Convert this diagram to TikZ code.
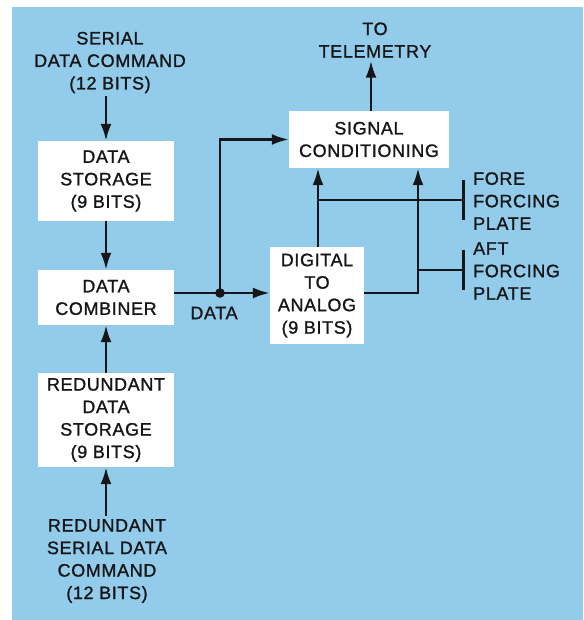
\documentclass[tikz,border=0pt]{standalone}
\usepackage{fontspec}
\setmainfont{Liberation Sans}[LetterSpace=3.5, FakeBold=1.2]
\usetikzlibrary{arrows.meta,positioning}
\definecolor{panelBlue}{RGB}{146,204,234}
\definecolor{inkDark}{RGB}{22,22,24}
\tikzset{
  cmdBlock/.style={fill=white, align=center, inner sep=0pt, text=inkDark, font=\fontsize{18}{22.5}\selectfont},
  cmdText/.style={align=center, inner sep=3pt, text=inkDark, font=\fontsize{18}{22.5}\selectfont},
  cmdSide/.style={align=left, inner sep=0pt, anchor=west, text=inkDark, font=\fontsize{18}{22.5}\selectfont},
  cmdArrow/.style={-{Latex[length=17pt,width=11pt]}, line width=2.6pt, draw=inkDark},
  cmdLine/.style={line width=2.6pt, draw=inkDark},
  cmdPlate/.style={-{Bar[width=40pt,line width=2.6pt]}, line width=2.6pt, draw=inkDark}
}

\begin{document}
\begin{tikzpicture}[x=1pt, y=-1pt]
      \useasboundingbox (0,0) rectangle (583,620);
      \fill[white] (0,0) rectangle (583,620);
      \fill[panelBlue] (12,7) rectangle (583,620);

      % left column
      \node[cmdText] (serial) at (110,62.5) {SERIAL\\DATA COMMAND\\(12 BITS)};
      \node[cmdBlock, minimum width=136pt, minimum height=80pt] (storage) at (106,181) {DATA\\STORAGE\\(9 BITS)};
      \node[cmdBlock, minimum width=136pt, minimum height=55pt] (combiner) at (106,297.5) {DATA\\COMBINER};
      \node[cmdBlock, minimum width=136pt, minimum height=94pt] (redstorage) at (106,420) {REDUNDANT\\DATA\\STORAGE\\(9 BITS)};
      \node[cmdText] (redserial) at (107,561) {REDUNDANT\\SERIAL DATA\\COMMAND\\(12 BITS)};

      % right part
      \node[cmdBlock, minimum width=94pt, minimum height=97pt] (dtoa) at (317,295.5) {DIGITAL\\TO\\ANALOG\\(9 BITS)};
      \node[cmdBlock, minimum width=160pt, minimum height=57pt] (sigcond) at (369,139.5) {SIGNAL\\CONDITIONING};
      \node[cmdText] (telemetry) at (375,40) {TO\\TELEMETRY};
      \node[cmdSide] (fore) at (473,201) {FORE\\FORCING\\PLATE};
      \node[cmdSide] (aft) at (473,271) {AFT\\FORCING\\PLATE};
      \node[cmdText] (datalabel) at (214,313) {DATA};

      \coordinate (dot) at (220,293);
      \coordinate (forejoin) at (318,200);
      \coordinate (aftjoin) at (418,270);
      \coordinate (forebar) at (465,200);
      \coordinate (aftbar) at (465,270);

      \draw[cmdArrow] (serial.south -| storage.north) -- (storage.north);
      \draw[cmdArrow] (storage) -- (combiner);
      \draw[cmdArrow] (redserial.north -| redstorage.south) -- (redstorage.south);
      \draw[cmdArrow] (redstorage) -- (combiner);
      \draw[cmdLine] (combiner.east |- dot) -- (dot);
      \draw[cmdArrow] (dot) -- (dot -| dtoa.west);
      \draw[cmdArrow] (dot) |- (sigcond.west);
      \fill[inkDark] (dot) circle (4.8pt);
      \draw[cmdArrow] (dtoa.north -| forejoin) -- (sigcond.south -| forejoin);
      \draw[cmdArrow] (dtoa.east |- dot) -| (sigcond.south -| aftjoin);
      \draw[cmdPlate] (forejoin) -- (forebar);
      \draw[cmdPlate] (aftjoin) -- (aftbar);
      \draw[cmdArrow] (sigcond.north -| 371,0) -- (telemetry.south -| 371,0);
    \end{tikzpicture}
\end{document}
